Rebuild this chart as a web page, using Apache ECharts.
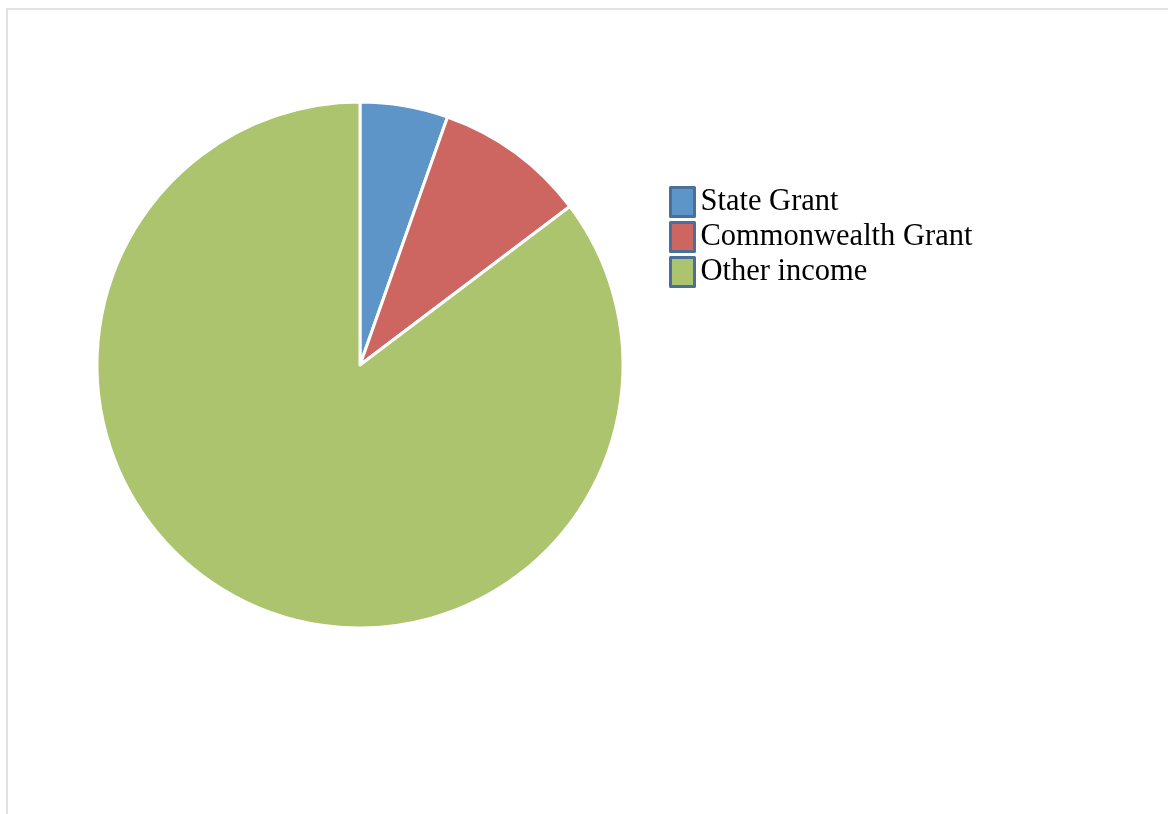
<!DOCTYPE html>
<html>
<head>
<meta charset="utf-8">
<script src="https://cdn.jsdelivr.net/npm/echarts@6/dist/echarts.min.js"></script>
<style>
html, body { margin: 0; padding: 0; background: #fff; }
#main { width: 1168px; height: 814px; }
</style>
</head>
<body>
<div id="main"></div>
<script>
var names = ['State Grant', 'Commonwealth Grant', 'Other income'];
var values = [5.4, 9.3, 85.3];
var colors = ['#5e95c8', '#cd6660', '#abc46d'];

var chart = echarts.init(document.getElementById('main'));

var data = names.map(function (n, i) {
    return { name: n, value: values[i], itemStyle: { color: colors[i] } };
});

var option = {
    animation: false,
    backgroundColor: '#fff',
    graphic: [{
        type: 'rect',
        shape: { x: 7, y: 9, width: 1300, height: 900 },
        style: { fill: 'none', stroke: '#e2e2e2', lineWidth: 2 },
        silent: true
    }],
    legend: {
        orient: 'vertical',
        left: 664,
        top: 181,
        icon: 'rect',
        itemWidth: 24,
        itemHeight: 29,
        itemGap: 3,
        data: names,
        itemStyle: { borderColor: '#4b6f9b', borderWidth: 3 },
        textStyle: { fontFamily: 'Liberation Serif', fontSize: 30.5, lineHeight: 29, color: '#000', padding: [0, 0, 0, 1] }
    },
    series: [{
        type: 'pie',
        center: [360, 365],
        radius: [0, 263],
        startAngle: 90,
        clockwise: true,
        label: { show: false },
        labelLine: { show: false },
        itemStyle: { borderColor: '#fff', borderWidth: 3 },
        data: data
    }]
};
chart.setOption(option);
</script>
</body>
</html>
